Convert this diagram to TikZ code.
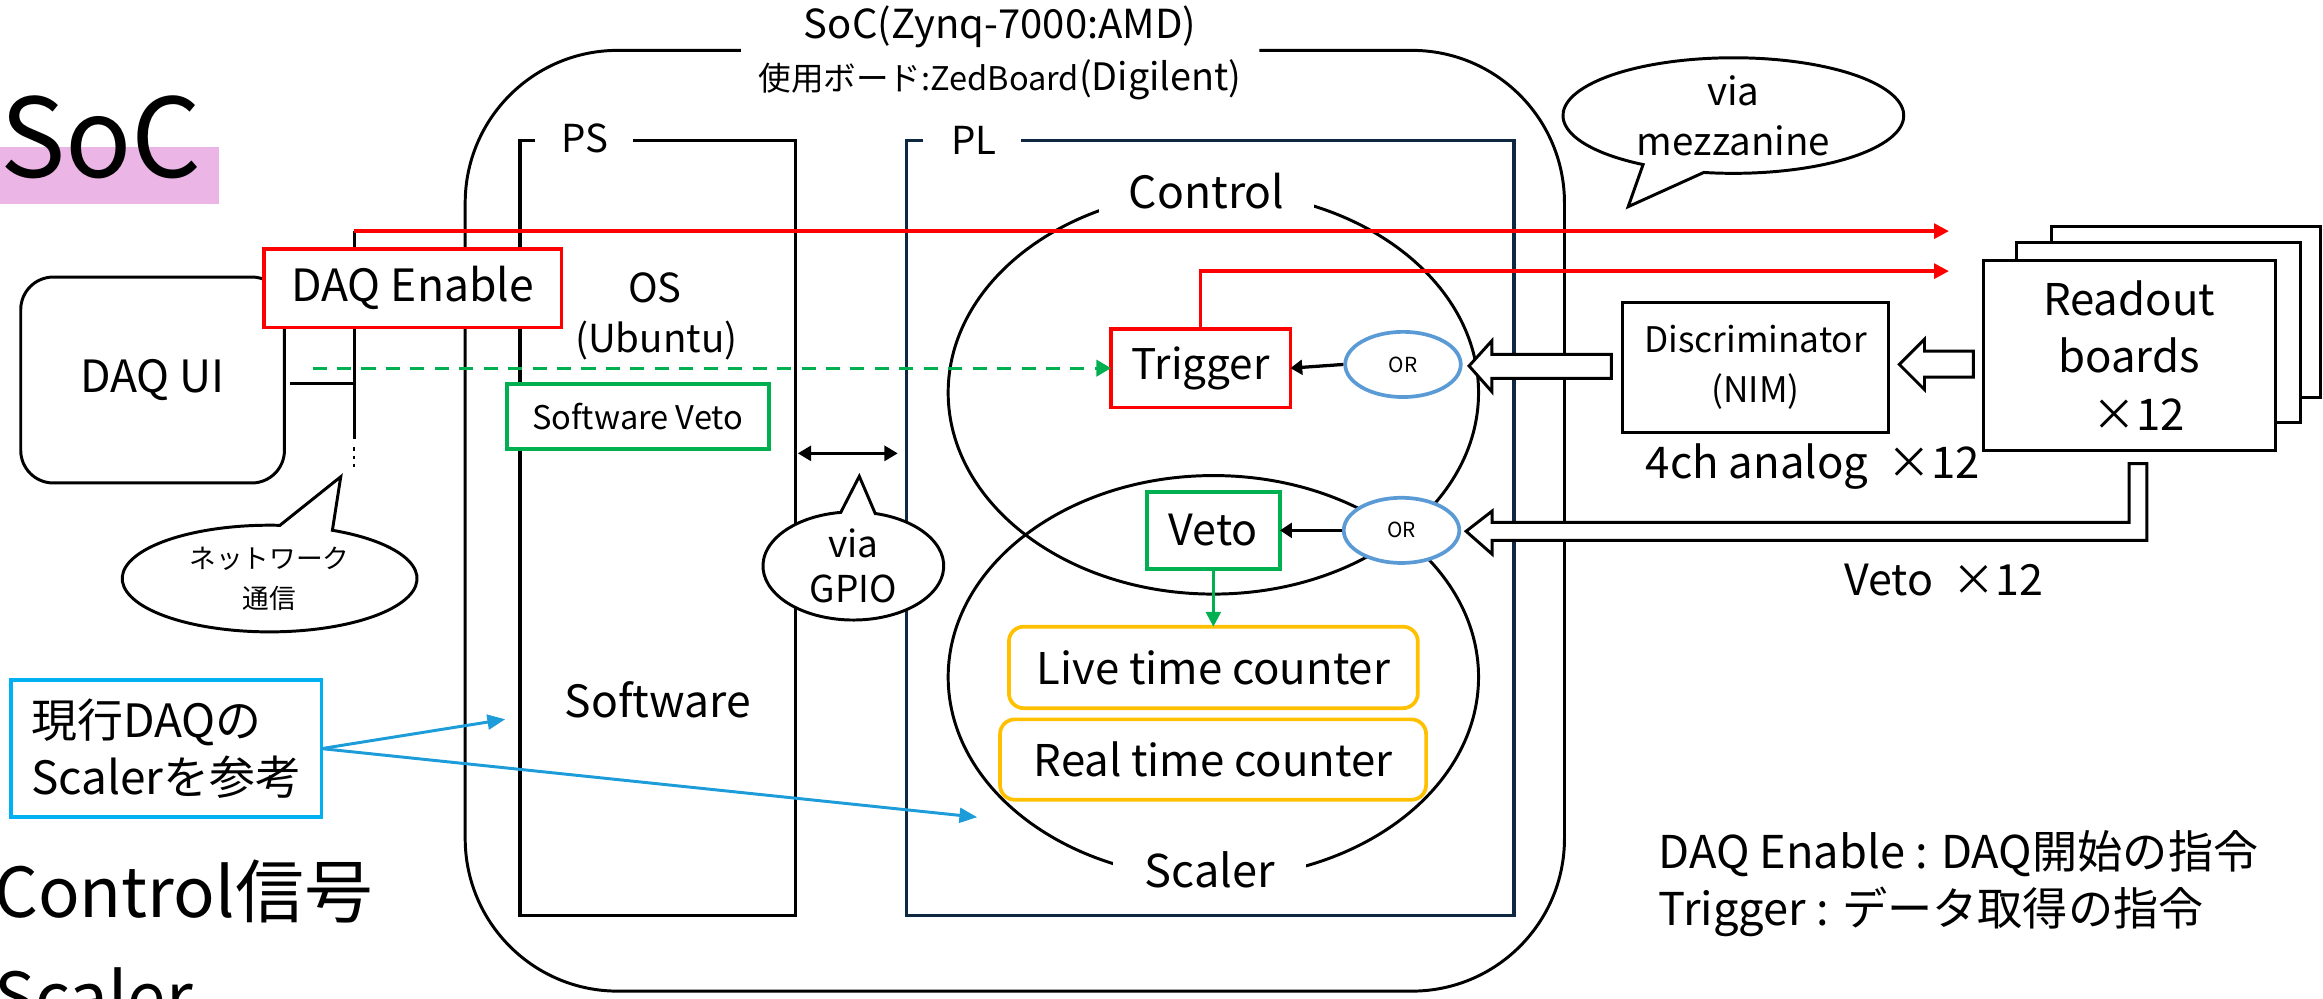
\documentclass[tikz,border=0pt]{standalone}
\usepackage{fontspec}
\setmainfont{Noto Sans CJK JP}
\usetikzlibrary{arrows.meta,calc,shapes.geometric}

\definecolor{sigred}{HTML}{FF0000}
\definecolor{siggreen}{HTML}{00B050}
\definecolor{orblue}{HTML}{5B9BD5}
\definecolor{cntorange}{HTML}{FFC000}
\definecolor{notecyan}{HTML}{00B0F0}
\definecolor{notearrow}{HTML}{1C9CD8}
\definecolor{plnavy}{HTML}{0E2841}
\definecolor{titlepink}{HTML}{EBB5E5}

\newcommand{\fsz}[1]{\fontsize{#1}{#1}\selectfont}
\newcommand{\fszl}[2]{\fontsize{#1}{#2}\selectfont}

\begin{document}
\begin{tikzpicture}[x=1pt,y=-1pt,
  frame/.style={draw=black,line width=2pt},
  sbox/.style={rectangle,inner sep=0pt,outer sep=0pt,fill=white},
  oval/.style={ellipse,draw=orblue,line width=2.5pt,fill=white,minimum width=78pt,minimum height=44pt,inner sep=0pt,font=\fsz{14}},
  hollow/.style={draw=black,line width=2pt,fill=white,line join=miter},
  blkarrow/.style={draw=black,line width=2.2pt,-{Triangle[length=8pt,width=10pt]}},
  redarrow/.style={draw=sigred,line width=2.2pt,-{Triangle[length=10pt,width=10pt]}},
  notearr/.style={draw=notearrow,line width=2pt,-{Triangle[length=12pt,width=10pt]}},
  callout/.style={draw=black,line width=2pt,fill=white},
  lbl/.style={inner sep=0pt,outer sep=0pt},
]
\useasboundingbox (0,0) rectangle (1568,674);

% left-hand headings
\fill[titlepink] (0,99) rectangle (148,138);
\node[lbl,anchor=base west,font=\fsz{74}] (soc) at (0,120) {SoC};
\node[lbl,anchor=base west,font=\fsz{46.5}] (ctrlsig) at (-4,619) {Control信号};
\node[lbl,anchor=base west,font=\fsz{46.5}] (scalersig) at (-4,690) {Scaler};

% SoC board outline and its title
\draw[frame,rounded corners=103pt] (500,34) -- (314,34) -- (314,669) -- (1056,669) -- (1056,34) -- (850,34);
\node[lbl,anchor=base,font=\fsz{27}] (soctitle) at (675,26) {SoC(Zynq-7000:AMD)};
\node[lbl,anchor=base,font=\fsz{22}] (board) at (675,61) {使用ボード:ZedBoard{\fsz{25.5}(Digilent)}};

% PS and PL regions
\draw[frame,line width=2.3pt] (361,95) -- (351,95) -- (351,618) -- (537,618) -- (537,95) -- (427,95);
\node[lbl,anchor=base west,font=\fsz{26}] (pslbl) at (379,103) {PS};
\draw[draw=plnavy,line width=2.3pt] (623,95) -- (612,95) -- (612,618) -- (1022,618) -- (1022,95) -- (689,95);
\node[lbl,anchor=base west,font=\fsz{26}] (pllbl) at (642,104) {PL};

% Control and Scaler blocks
\draw[frame] (819,265) ellipse[x radius=179, y radius=136];
\draw[frame] (819,457) ellipse[x radius=179, y radius=136];
\node[sbox,anchor=base,font=\fsz{30},inner xsep=20pt,inner ysep=3pt] (ctrllbl) at (814.5,141) {Control};
\node[sbox,anchor=base,font=\fsz{30.5},inner xsep=21pt,inner ysep=3pt] (scllbl) at (816.5,599) {Scaler};

% network bus from the DAQ UI
\coordinate (bustop) at (239,156);
\coordinate (busbot) at (239,296);
\coordinate (busjoin) at (239,259);
\coordinate (redend1) at (1315.5,156);
\coordinate (redend2) at (1315.5,183);
\coordinate (vetostart) at (211,248.5);
\draw[frame] (bustop) -- (busbot);
\draw[line width=1.8pt, dash pattern=on 2.5pt off 3pt] ($(busbot)+(0,6)$) -- ($(busbot)+(0,20)$);
\draw[redarrow] (bustop) -- (redend1);

\node[sbox,draw,line width=2pt,rounded corners=22pt,minimum width=178pt,minimum height=139pt,font=\fsz{30}] (daqui) at (103,256.5) {DAQ UI};
\draw[frame] ($(daqui.east)+(4,2.5)$) -- (busjoin);
\node[sbox,draw=sigred,line width=2.5pt,minimum width=201pt,minimum height=53pt,font=\fsz{30}] (daqen) at (278.5,194.5) {DAQ Enable};

% PS contents
\node[lbl,anchor=base,font=\fsz{27}] (oslbl) at (442,204) {OS};
\node[lbl,anchor=base,font=\fsz{26}] (ubuntu) at (443,238) {(Ubuntu)};
\node[sbox,draw=siggreen,line width=2.5pt,minimum width=177pt,minimum height=44pt,font=\fsz{22}] (swveto) at (430.5,281) {Software Veto};
\node[lbl,anchor=base,font=\fsz{30}] (swlbl) at (444,484) {Software};

% PL contents
\node[sbox,draw=sigred,line width=2.5pt,minimum width=121pt,minimum height=53pt,font=\fsz{28.5}] (trig) at (810.5,248.5) {Trigger};
\draw[redarrow] (trig.north) |- (redend2);
\draw[siggreen,line width=2.2pt,dash pattern=on 9.5pt off 7pt,-{Triangle[length=10pt,width=11pt]}] (vetostart) -- (trig.west);

\node[oval] (orup) at (947,246) {OR};
\node[oval] (orlo) at (946,358) {OR};
\draw[blkarrow] (orup.west) -- (trig.east);
\node[sbox,draw=siggreen,line width=2.5pt,minimum width=90pt,minimum height=52pt,font=\fsz{29}] (veto) at (819,358) {Veto};
\draw[blkarrow] (orlo.west) -- (veto.east);

\node[sbox,draw=cntorange,line width=2.5pt,rounded corners=10pt,minimum width=276pt,minimum height=55pt,font=\fsz{29.5}] (live) at (819,450.5) {Live time counter};
\node[sbox,draw=cntorange,line width=2.5pt,rounded corners=10pt,minimum width=287.6pt,minimum height=54.3pt,font=\fsz{29.5}] (real) at (818.8,512.7) {Real time counter};
\draw[siggreen,line width=2pt,-{Triangle[length=10pt,width=10pt]}] (veto.south) -- (live.north);

% PS <-> PL link
\coordinate (gpioL) at (538.5,306);
\coordinate (gpioR) at (606,306);
\draw[line width=2.2pt,{Triangle[length=9pt,width=10pt]}-{Triangle[length=9pt,width=10pt]}] (gpioL) -- (gpioR);

% speech bubbles
\coordinate (netc) at (182,390.5);
\coordinate (nettip) at (230,321.8);
\draw[callout] ($(netc)+(-64.8:99.5 and 36)$) arc[start angle=-64.8,end angle=274,x radius=99.5,y radius=36] -- (nettip) -- cycle;
\node[lbl,align=center,font=\fszl{18}{27}] (nettxt) at (netc) {ネットワーク\\通信};

\coordinate (gpioc) at (576,382);
\coordinate (gpiotip) at (580,321.5);
\draw[callout] ($(gpioc)+(-76:61 and 36.5)$) arc[start angle=-76,end angle=262,x radius=61,y radius=36.5] -- (gpiotip) -- cycle;
\node[lbl,align=center,font=\fszl{25}{30.5}] (gpiotxt) at (gpioc) {via\\GPIO};

\coordinate (mezc) at (1170,78);
\coordinate (meztip) at (1099,139.5);
\draw[callout] ($(mezc)+(122:115 and 39)$) arc[start angle=122,end angle=460,x radius=115,y radius=39] -- (meztip) -- cycle;
\node[lbl,align=center,font=\fszl{26}{34}] (meztxt) at (mezc) {via\\mezzanine};

% front-end electronics
\node[sbox,draw,line width=2pt,minimum width=180pt,minimum height=88pt,align=center,font=\fszl{23.8}{33.5}] (disc) at (1185,248) {Discriminator\\(NIM)};
\node[sbox,draw,line width=2pt,minimum width=181.5pt,minimum height=115pt] (back) at (1475.25,210.5) {};
\node[sbox,draw,line width=2pt,minimum width=192pt,minimum height=121.5pt] (mid) at (1457,224.25) {};
\node[sbox,draw,line width=2pt,minimum width=197pt,minimum height=128pt,align=center,font=\fszl{29.5}{39}] (front) at (1437.1,240) {Readout\\boards\\\ \ ×12};

% block arrows
\draw[hollow] ($(disc.west)+(-7.4,-8.8)$) -- ++(-80.6,0) -- ++(0,-9.2) -- ++(-15.4,17) -- ++(15.4,17.4) -- ++(0,-9) -- ++(80.6,0) -- cycle;
\draw[hollow] ($(front.west)+(-6.6,-3)$) -- ++(-33,0) -- ++(0,-8) -- ++(-17,17) -- ++(17,17) -- ++(0,-8.5) -- ++(33,0) -- cycle;
\draw[hollow] ($(front.south)+(0,9)$) -- ++(12,0) -- ++(0,51.7) -- ++(-442,0) -- ++(0,9.3) -- ++(-17.5,-15.4) -- ++(17.5,-13.6) -- ++(0,7.6) -- ++(430,0) -- cycle;

\node[lbl,anchor=base west,font=\fsz{29.5}] (analog) at (1111,323) {4ch analog \ ×12};
\node[lbl,anchor=base west,font=\fsz{29}] (vetox) at (1245,402) {Veto \ ×12};

% legend
\node[lbl,anchor=base west,font=\fsz{30.5}] (leg1) at (1119.5,586) {DAQ Enable : DAQ開始の指令};
\node[lbl,anchor=base west,font=\fsz{30.5}] (leg2) at (1119.5,624.4) {Trigger : データ取得の指令};

% note on the scaler design
\node[sbox,draw=notecyan,line width=2.5pt,minimum width=209.4pt,minimum height=92.6pt,align=left,font=\fszl{31}{38}] (note) at (112.3,505.3) {現行DAQの\\Scalerを参考};
\coordinate (notetip1) at (341,485.5);
\coordinate (notetip2) at (659.6,551.6);
\draw[notearr] (note.east) -- (notetip1);
\draw[notearr] (note.east) -- (notetip2);
\end{tikzpicture}
\end{document}
